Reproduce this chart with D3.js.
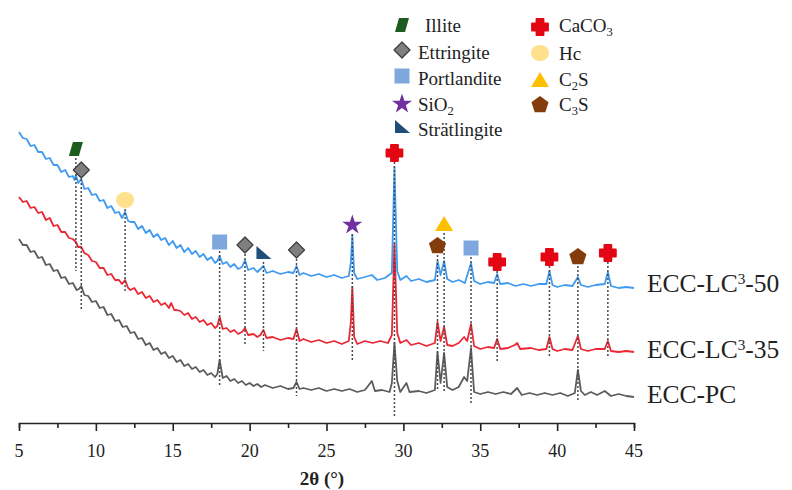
<!DOCTYPE html>
<html>
<head>
<meta charset="utf-8">
<script src="https://cdn.jsdelivr.net/npm/d3@7"></script>
<style>
  body { margin: 0; background: #fff; }
  svg { display: block; }
  text { font-family: "Liberation Serif", "Times New Roman", serif; fill: #222; }
</style>
</head>
<body>
<svg id="chart" width="792" height="490"></svg>
<script>
// XRD patterns: [2θ (°), intensity (a.u.)]
const lc50 = [[5,291],[5.25,285],[5.5,284],[5.75,277],[6,278],[6.25,271],[6.5,271],[6.75,264],[7,265],[7.25,258],[7.5,258],[7.75,251],[8,253],[8.25,246],[8.5,247],[8.6,243],[8.7,248],[8.85,240],[9.05,244],[9.25,234],[9.5,235],[9.75,228],[10,229],[10.25,222],[10.5,223],[10.75,215],[11,217],[11.25,210],[11.5,211],[11.7,205],[11.9,211],[12.1,202],[12.25,201],[12.5,201],[12.75,194],[13,197],[13.25,190],[13.5,193],[13.75,186],[14,189],[14.25,183],[14.5,185],[14.75,178],[15,182],[15.25,175],[15.5,178],[15.75,171],[16,175],[16.25,169],[16.5,172],[16.75,166],[17,169],[17.25,163],[17.5,166],[17.75,160],[17.9,162],[18.05,167],[18.25,159],[18.5,161],[18.75,156],[19,159],[19.25,154],[19.5,156],[19.7,163],[19.9,153],[20.25,155],[20.5,151],[20.7,154],[20.9,157],[21.1,150],[21.5,152],[22,149],[22.5,151],[22.85,150],[23.05,157],[23.25,148],[23.5,150],[24,147],[24.5,149],[25,146],[25.5,148],[26,145],[26.45,147],[26.58,160],[26.68,188],[26.8,150],[27,144],[27.5,146],[27.95,148],[28.3,143],[28.8,145],[29.25,150],[29.42,256],[29.6,152],[29.8,143],[30.2,147],[30.5,142],[31,144],[31.5,141],[32.05,143],[32.22,162],[32.42,148],[32.65,162],[32.85,144],[33.2,141],[33.6,143],[34,140],[34.4,160],[34.6,142],[35,139],[35.5,141],[35.9,140],[36.1,149],[36.3,139],[36.8,140],[37.3,137],[37.8,139],[38.3,137],[38.8,139],[39.3,139],[39.5,152],[39.7,138],[40,136],[40.5,138],[41,137],[41.35,146],[41.55,138],[42,136],[42.5,138],[43.1,139],[43.3,151],[43.5,137],[44,135],[44.5,136],[45,135]];

const lc35 = [[5,226],[5.25,221],[5.5,222],[5.75,215],[6,216],[6.25,210],[6.5,211],[6.75,203],[7,205],[7.25,197],[7.5,198],[7.75,191],[8,191],[8.25,185],[8.5,184],[8.7,181],[8.85,176],[9.05,176],[9.25,170],[9.5,168],[9.75,162],[10,161],[10.25,155],[10.5,155],[10.75,148],[11,149],[11.25,143],[11.5,143],[11.7,139],[11.9,143],[12.1,135],[12.25,133],[12.5,135],[12.75,129],[13,131],[13.25,125],[13.5,127],[13.75,121],[14,123],[14.25,118],[14.5,120],[14.75,115],[14.9,120],[15.1,113],[15.25,113],[15.5,112],[15.75,108],[16,110],[16.25,104],[16.5,106],[16.75,101],[17,103],[17.25,98],[17.5,100],[17.75,95],[17.9,97],[18.05,106],[18.25,94],[18.5,95],[18.75,91],[19,93],[19.25,89],[19.5,91],[19.7,95],[19.9,88],[20.25,89],[20.5,86],[20.7,88],[20.9,93],[21.1,85],[21.5,86],[22,83],[22.5,85],[22.85,84],[23.05,94],[23.25,82],[23.5,84],[24,81],[24.5,83],[25,80],[25.5,82],[26,79],[26.45,82],[26.58,100],[26.68,136],[26.8,86],[27,79],[27.5,82],[28,80],[28.5,82],[29,80],[29.25,88],[29.42,179],[29.6,90],[29.8,80],[30.2,83],[30.5,78],[31,80],[31.5,77],[32.05,80],[32.22,101],[32.42,82],[32.65,96],[32.85,78],[33.2,77],[33.6,80],[33.95,86],[34.15,82],[34.4,99],[34.6,77],[35,74],[35.5,76],[35.9,75],[36.1,84],[36.3,74],[36.8,75],[37.25,78],[37.4,80],[37.6,74],[38.3,75],[38.8,73],[39.3,74],[39.5,86],[39.7,74],[40,72],[40.5,74],[41,73],[41.35,87],[41.55,74],[42,72],[42.5,74],[43.1,74],[43.3,82],[43.5,72],[44,71],[44.5,72],[45,71]];

const pc = [[5,184],[5.25,178],[5.5,178],[5.75,171],[6,172],[6.25,165],[6.5,166],[6.75,158],[7,159],[7.25,152],[7.5,153],[7.75,145],[8,146],[8.25,139],[8.5,140],[8.75,133],[8.9,134],[9.05,137],[9.25,128],[9.5,127],[9.75,121],[10,122],[10.25,115],[10.5,116],[10.75,108],[11,109],[11.25,102],[11.5,103],[11.75,96],[12,97],[12.25,90],[12.5,91],[12.75,84],[13,85],[13.25,78],[13.5,80],[13.75,73],[14,75],[14.25,69],[14.5,71],[14.75,65],[15,67],[15.25,61],[15.5,63],[15.75,57],[16,59],[16.25,54],[16.5,56],[16.75,51],[17,53],[17.25,48],[17.5,50],[17.75,46],[17.9,49],[18.05,63],[18.25,45],[18.5,47],[18.75,42],[19,44],[19.25,40],[19.5,42],[19.75,38],[20,40],[20.25,37],[20.5,39],[20.75,36],[21,38],[21.5,35],[22,37],[22.5,34],[22.85,35],[23.05,41],[23.25,34],[23.5,35],[24,33],[24.5,35],[25,32],[25.5,34],[26,32],[26.5,34],[27,31],[27.5,33],[27.95,42],[28.15,32],[28.6,33],[29.1,31],[29.25,40],[29.42,80],[29.6,42],[29.8,31],[30.2,40],[30.4,31],[31,32],[31.5,30],[32.05,33],[32.22,71],[32.42,40],[32.65,70],[32.85,36],[33.2,33],[33.6,36],[33.95,46],[34.15,42],[34.4,75],[34.6,31],[35,29],[35.5,31],[36,29],[36.5,31],[37,29],[37.4,35],[37.7,28],[38.2,30],[38.7,28],[39.2,30],[39.7,28],[40.2,30],[40.7,27],[41.15,30],[41.35,53],[41.55,32],[41.8,28],[42.2,31],[42.6,28],[43.1,32],[43.5,27],[44,29],[44.5,27],[45,26]];

const seriesNames = ["ECC-LC3-50", "ECC-LC3-35", "ECC-PC"];
const seriesColors = ["#2a8ff0", "#e8101c", "#4a4a4a"];

// phase identification: marker angle, marker height and where the guide line stops (a.u.)
const phaseKeys = ["illite","ettringite","hc","portlandite","ettringite","stratlingite","ettringite","sio2","caco3","c3s","c2s","portlandite","caco3","caco3","c3s","caco3"];
const phaseAngles = [8.7, 9.05, 11.9, 18.05, 19.7, 20.9, 23.05, 26.68, 29.42, 32.22, 32.65, 34.4, 36.1, 39.5, 41.35, 43.3];
const markerLevels = [274, 253, 223, 181, 178, 170, 173, 198, 270, 177, 199, 175, 161, 166, 166, 170];
const dropLevels = [152, 112, 131, 37, 77, 72, 27, 61, 6, 32, 32, 19, 61, 66, 21, 66];

const legendCol1 = ["illite", "ettringite", "portlandite", "sio2", "stratlingite"];
const legendCol2 = ["caco3", "hc", "c2s", "c3s"];

const xTicks = [5, 10, 15, 20, 25, 30, 35, 40, 45];

const svg = d3.select("#chart");

const x = d3.scaleLinear().domain([5, 45]).range([19, 634]);
const y = d3.scaleLinear().domain([0, 300]).range([423, 123]);

// marker shapes
const shapes = {
  illite: { d: "M-3,-7L7,-7L3,7L-7,7Z", fill: "#1e5b1e" },
  ettringite: { d: "M0,-8L8,0L0,8L-8,0Z", fill: "#7f7f7f", stroke: "#3c3c3c" },
  portlandite: { d: "M-7.5,-7.5H7.5V7.5H-7.5Z", fill: "#7ea7de" },
  sio2: { d: d3.symbol(d3.symbolStar, 125)(), fill: "#7030a0" },
  stratlingite: { d: "M-7,-7L-7,6L8,6Z", fill: "#1f4e79" },
  caco3: { d: "M-3.5,-8H3.5V-3.5H8V3.5H3.5V8H-3.5V3.5H-8V-3.5H-3.5Z", fill: "#e30613", stroke: "#e30613", round: true },
  hc: { d: "M-9,0A9,8 0 1,0 9,0A9,8 0 1,0 -9,0Z", fill: "#ffe08c" },
  c2s: { d: "M0,-8L9,7L-9,7Z", fill: "#ffc000" },
  c3s: { d: d3.range(5).map((i) => {
      const a = -Math.PI / 2 + i * 2 * Math.PI / 5;
      return (i ? "L" : "M") + (9 * Math.cos(a)).toFixed(2) + "," + (9 * Math.sin(a)).toFixed(2);
    }).join("") + "Z", fill: "#843c0c" },
};

const legendText = {
  illite: [["Illite"]],
  ettringite: [["Ettringite"]],
  portlandite: [["Portlandite"]],
  sio2: [["SiO"], ["2", "sub"]],
  stratlingite: [["Strätlingite"]],
  caco3: [["CaCO"], ["3", "sub"]],
  hc: [["Hc"]],
  c2s: [["C"], ["2", "sub"], ["S", "after-sub"]],
  c3s: [["C"], ["3", "sub"], ["S", "after-sub"]],
};

function drawShape(g, key, cx, cy) {
  const s = shapes[key];
  g.append("path")
    .attr("d", s.d)
    .attr("transform", `translate(${cx},${cy})`)
    .attr("fill", s.fill)
    .attr("stroke", s.stroke || "none")
    .attr("stroke-width", s.round ? 1.8 : 1.2)
    .attr("stroke-linejoin", "round");
}

function richText(g, parts, tx, ty, size) {
  const t = g.append("text").attr("x", tx).attr("y", ty).attr("font-size", size);
  parts.forEach(([str, kind]) => {
    const span = t.append("tspan").text(str);
    if (kind === "sub") span.attr("font-size", size * 0.66).attr("dy", size * 0.22);
    if (kind === "sup") span.attr("font-size", size * 0.6).attr("dy", -size * 0.32);
    if (kind === "after-sub") span.attr("dy", -size * 0.22);
    if (kind === "after-sup") span.attr("dy", size * 0.32);
  });
  return t;
}

// patterns
const line = d3.line().x((d) => x(d[0])).y((d) => y(d[1]));
[lc50, lc35, pc].forEach((series, i) => {
  svg.append("path")
    .attr("d", line(series))
    .attr("fill", "none")
    .attr("stroke", seriesColors[i])
    .attr("stroke-width", 1.8)
    .attr("stroke-linejoin", "round")
    .attr("opacity", 0.9);
});

// dotted guide lines
const guides = svg.append("g");
phaseAngles.forEach((a, i) => {
  guides.append("line")
    .attr("x1", x(a)).attr("x2", x(a))
    .attr("y1", y(markerLevels[i]) + 9)
    .attr("y2", y(dropLevels[i]))
    .attr("stroke", "#4a4a4a")
    .attr("stroke-width", 1.5)
    .attr("stroke-dasharray", "2,2");
});

// markers above peaks
const markers = svg.append("g");
phaseAngles.forEach((a, i) => {
  drawShape(markers, phaseKeys[i], x(a), y(markerLevels[i]));
});

// legend
const legend = svg.append("g");
legendCol1.forEach((k, i) => {
  drawShape(legend, k, 402, [25, 50, 76, 104, 127][i]);
  richText(legend, legendText[k], k === "illite" ? 425 : 418, [32, 59, 85, 111, 136][i], 19);
});
legendCol2.forEach((k, i) => {
  drawShape(legend, k, 540, [27, 53, 80, 105][i]);
  richText(legend, legendText[k], 559, [32, 60, 86, 111][i], 19);
});

// series labels
const labelY = [292, 358, 403];
seriesNames.forEach((name, i) => {
  const m = name.match(/^(ECC-LC)3(-\d+)$/);
  const parts = m ? [[m[1]], ["3", "sup"], [m[2], "after-sup"]] : [[name]];
  richText(svg, parts, 647, labelY[i], 25.5);
});

// x axis
const axis = svg.append("g")
  .attr("transform", `translate(0,${y(0)})`)
  .call(d3.axisBottom(x).tickValues(d3.range(5, 45.1, 2.5)).tickSize(5).tickFormat(""));
axis.select(".domain").attr("stroke", "#222").attr("stroke-width", 1.6);
axis.selectAll(".tick line").attr("stroke", "#222").attr("stroke-width", 1.6)
  .attr("y2", (d) => (d % 5 === 0 ? 8 : 5));

svg.append("g").selectAll("text")
  .data(xTicks)
  .join("text")
  .attr("x", (d) => x(d))
  .attr("y", 457)
  .attr("text-anchor", "middle")
  .attr("font-size", 18)
  .text((d) => d);

svg.append("text")
  .attr("x", 322).attr("y", 485)
  .attr("text-anchor", "middle")
  .attr("font-size", 19)
  .attr("font-weight", "bold")
  .text("2θ (°)");
</script>
</body>
</html>
